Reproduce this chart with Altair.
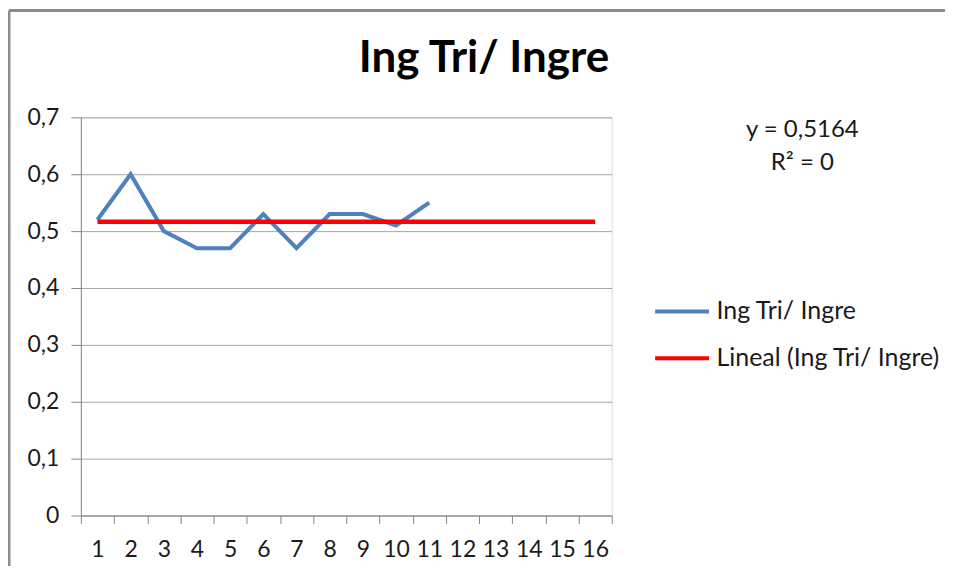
import altair as alt
import pandas as pd

# ---- data ----
categories = ["1", "2", "3", "4", "5", "6", "7", "8", "9", "10", "11", "12", "13", "14", "15", "16"]
series_name = "Ing Tri/ Ingre"
trend_name = "Lineal (Ing Tri/ Ingre)"
values = [0.52, 0.60, 0.50, 0.47, 0.47, 0.53, 0.47, 0.53, 0.53, 0.51, 0.55]
y_ticks = [0, 0.1, 0.2, 0.3, 0.4, 0.5, 0.6, 0.7]
chart_title = "Ing Tri/ Ingre"

# linear trend of the series (Excel shows a flat line: y = mean, R² = 0)
trend_const = round(sum(values) / len(values), 4)
trend_values = [trend_const] * len(categories)
equation_lines = ["y = " + f"{trend_const:.4f}".replace(".", ","), "R² = 0"]

FONT = "Lato"
BLUE = "#4f81bd"
RED = "#ff0000"
TXT = "#1a1a1a"

main_df = pd.DataFrame({"cat": categories[:len(values)], "value": values, "series": series_name})
trend_df = pd.DataFrame({"cat": categories, "value": trend_values, "series": trend_name})

x_enc = alt.X(
    "cat:O",
    scale=alt.Scale(type="band", domain=categories, paddingInner=0, paddingOuter=0),
    bandPosition=0.5,
    sort=None,
    title=None,
    axis=alt.Axis(
        labelAngle=0, tickBand="extent", grid=False, domainColor="#868686", tickColor="#868686",
        tickSize=8, labelPadding=15, labelFont=FONT, labelFontSize=23, labelColor=TXT,
        domainWidth=1, tickWidth=1,
    ),
)
y_enc = alt.Y(
    "value:Q",
    scale=alt.Scale(domain=[0, 0.7], nice=False, zero=True),
    title=None,
    axis=alt.Axis(
        values=y_ticks, grid=True, gridColor="#a6a6a6", gridWidth=1,
        domainColor="#868686", tickColor="#868686", tickSize=10, labelPadding=12,
        labelFont=FONT, labelFontSize=23, labelColor=TXT,
        labelExpr="datum.value == 0 ? '0' : replace(format(datum.value, '.1f'), '.', ',')",
    ),
)
color_enc = alt.Color(
    "series:N",
    scale=alt.Scale(domain=[series_name, trend_name], range=[BLUE, RED]),
    title=None,
    legend=alt.Legend(
        orient="none", legendX=590, legendY=182, padding=0,
        symbolType="M-2.7,0H2.7", symbolSize=400, symbolStrokeWidth=4,
        labelFont=FONT, labelFontSize=25, labelColor=TXT, labelOffset=22,
        rowPadding=21, labelLimit=400,
    ),
)

blue_line = alt.Chart(main_df).mark_line(strokeWidth=4).encode(x=x_enc, y=y_enc, color=color_enc)
red_line = alt.Chart(trend_df).mark_line(strokeWidth=4.5).encode(x=x_enc, y=y_enc, color=color_enc)

one = pd.DataFrame({"k": [0]})
equation = alt.Chart(one).mark_text(
    font=FONT, fontSize=24, lineHeight=33, align="center", baseline="alphabetic", color=TXT
).encode(x=alt.value(723), y=alt.value(20), text=alt.value(equation_lines))

frame_top = alt.Chart(one).mark_rule(color="#8c8c8c", strokeWidth=3).encode(
    x=alt.value(-72), x2=alt.value(866), y=alt.value(-107)
)
frame_left = alt.Chart(one).mark_rule(color="#8c8c8c", strokeWidth=3).encode(
    x=alt.value(-72), y=alt.value(-107), y2=alt.value(480)
)

chart = alt.layer(frame_top, frame_left, blue_line, red_line, equation).properties(
    width=532,
    height=399,
    title=alt.TitleParams(
        chart_title, font=FONT, fontSize=44, fontWeight="bold", color="#000000",
        anchor="middle", frame="group", dx=138, baseline="alphabetic", offset=-107,
    ),
    autosize=alt.AutoSizeParams(type="none"),
    padding={"left": 73, "top": 109, "right": 338, "bottom": 50},
).configure_view(stroke=None).configure(background="white")

chart.save("out.html", embed_options={"renderer": "svg", "actions": False})
